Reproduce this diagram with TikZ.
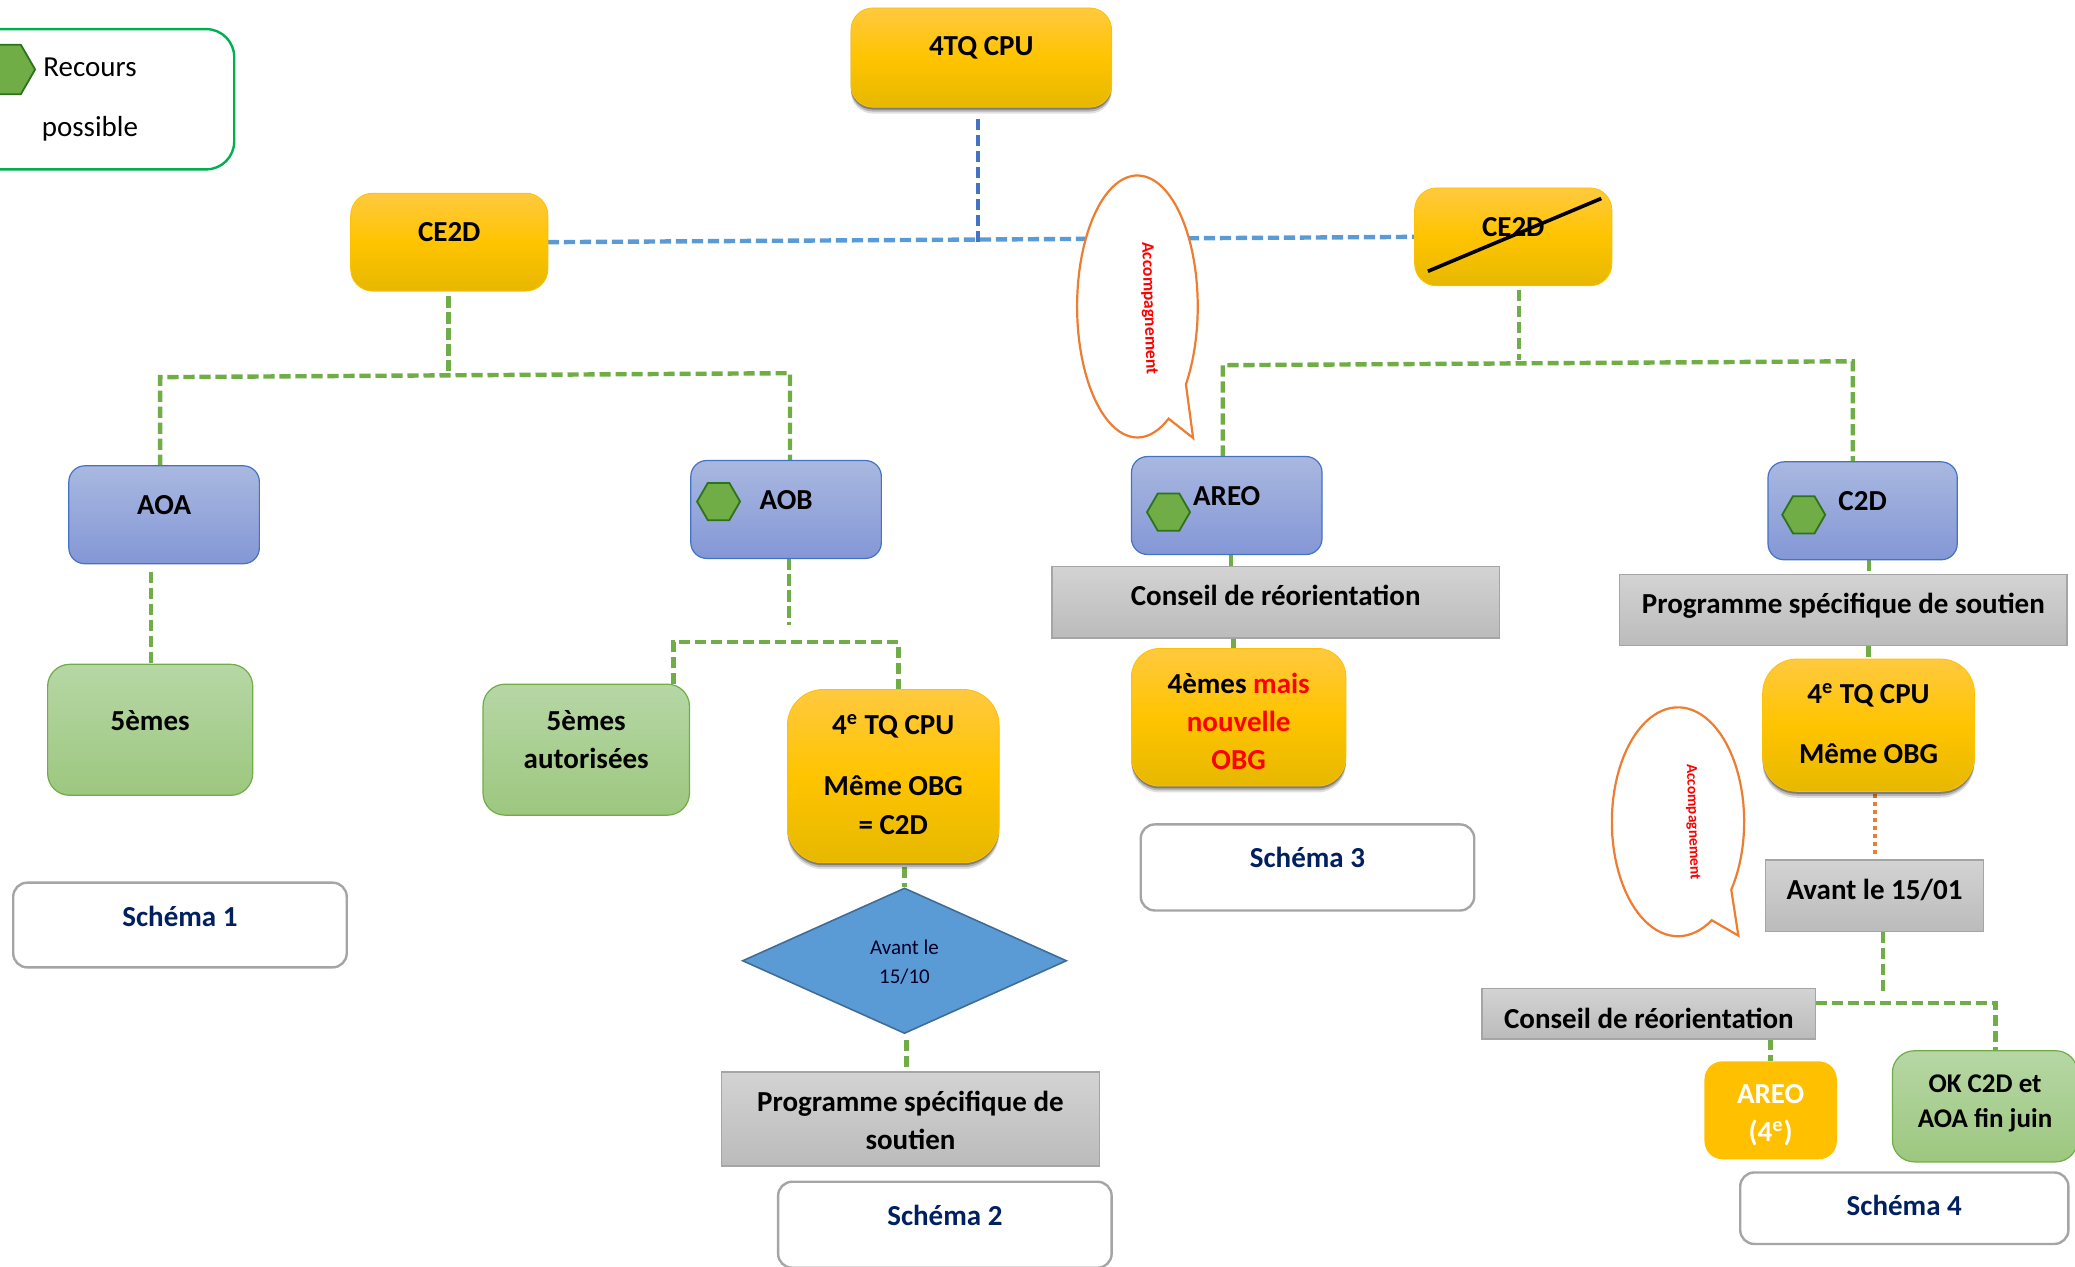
\documentclass[tikz,border=0pt]{standalone}
\usepackage{fontspec}
\setmainfont{Carlito}
\usetikzlibrary{shapes.geometric,shadows}
\pgfdeclarelayer{back}
\pgfsetlayers{back,main}
\definecolor{goldT}{HTML}{FFC93F}
\definecolor{goldM}{HTML}{FFC400}
\definecolor{goldB}{HTML}{E6B800}
\definecolor{goldL}{HTML}{FFC000}
\definecolor{blueT}{HTML}{A9B8E0}
\definecolor{blueB}{HTML}{8497D6}
\definecolor{blueL}{HTML}{4472C4}
\definecolor{greenT}{HTML}{B6D7A5}
\definecolor{greenB}{HTML}{9DC77F}
\definecolor{greenL}{HTML}{70AD47}
\definecolor{grayT}{HTML}{D3D3D3}
\definecolor{grayB}{HTML}{BBBBBB}
\definecolor{grayL}{HTML}{A5A5A5}
\definecolor{skyL}{HTML}{5B9BD5}
\definecolor{orangeL}{HTML}{ED7D31}
\definecolor{navy}{HTML}{002060}
\definecolor{legendL}{HTML}{00B050}
\newcommand\bx[8]{%
  \pgfmathsetmacro\rr{((#3+#5)/2-#8)*0.6616}%
  \node[#6,minimum width={(#4-#2)*0.6616pt},minimum height={(#5-#3)*0.6616pt}] (#1)
    at ({(#2+#4)/2},{(#3+#5)/2})
    {\smash{\raisebox{\dimexpr\rr pt-.365em\relax}{\begin{tabular}{@{}c@{}}#7\end{tabular}}}};}
\tikzset{
  anybox/.style={inner sep=0pt,outer sep=0pt,align=center},
  txt/.style={font=\fontsize{14.5}{17.5}\selectfont\bfseries},
  goldbox/.style={anybox,txt,rounded corners=11pt,draw=goldL,line width=.4pt,top color=goldT,bottom color=goldB,middle color=goldM},
  softshade/.style={drop shadow={shadow xshift=0pt,shadow yshift=-3.2pt,opacity=.12,fill=black},
    drop shadow={shadow xshift=0pt,shadow yshift=-2.2pt,opacity=.2,fill=black},
    drop shadow={shadow xshift=0pt,shadow yshift=-1.2pt,opacity=.3,fill=black}},
  goldshadow/.style={goldbox,softshade},
  bluebox/.style={anybox,txt,rounded corners=8pt,draw=blueL,line width=.6pt,top color=blueT,bottom color=blueB},
  greenbox/.style={anybox,txt,rounded corners=11pt,draw=greenL,line width=.6pt,top color=greenT,bottom color=greenB},
  graybox/.style={anybox,txt,draw=grayL,line width=.7pt,top color=grayT,bottom color=grayB},
  schemabox/.style={anybox,txt,text=navy,rounded corners=7pt,draw=grayL,line width=1.2pt,fill=white},
  flatgold/.style={anybox,txt,text=white,rounded corners=9pt,fill=goldL},
  hexa/.style={regular polygon,regular polygon sides=6,inner sep=0pt,minimum size=21.5pt,fill=greenL,draw=green!30!black!60!greenL,line width=.9pt},
  greenlink/.style={draw=greenL,line width=2.2pt,dash pattern=on 5.6pt off 2.4pt},
  skylink/.style={draw=skyL,line width=2.2pt,dash pattern=on 5.6pt off 2.4pt},
  bluelink/.style={draw=blueL,line width=2.2pt,dash pattern=on 5.6pt off 2.4pt},
  dotlink/.style={draw=orangeL,line width=2.2pt,dash pattern=on 2pt off 2pt},
  bubble/.style={draw=orangeL,line width=1.1pt,fill=white,line join=miter},
  acclabel/.style={inner sep=0pt,text=red,rotate=-88},
}
\begin{document}
\begin{tikzpicture}[x=0.6616pt,y=-0.6616pt]
\useasboundingbox (0,0) rectangle (1568,956.7);

% legend
\node[anybox,rounded corners=14pt,draw=legendL,line width=1.2pt,fill=white,minimum width={207*0.6616pt},minimum height={106*0.6616pt}] (legend) at (73.5,75) {};
\node[hexa,minimum size=28.5pt] (leghex) at (5,52.5) {};
\node[inner sep=0pt,font=\fontsize{14.5}{17.5}\selectfont,align=center] (legtxt) at (68,75) {Recours\\[12.6pt]possible};

% boxes
\bx{top}{643}{6}{840}{81}{goldshadow}{4TQ CPU}{34}
\bx{ceL}{265}{146}{414}{220}{goldbox}{CE2D}{175}
\bx{ceR}{1069}{142}{1218}{216}{goldbox}{CE2D}{171}
\bx{aoa}{52}{352}{196}{426}{bluebox}{AOA}{381}
\bx{aob}{522}{348}{666}{422}{bluebox}{AOB}{377}
\bx{areo}{855}{345}{999}{419}{bluebox}{AREO}{374}
\bx{ctd}{1336}{349}{1479}{423}{bluebox}{C2D}{378}
\bx{cinq}{36}{502}{191}{601}{greenbox}{5èmes}{544}
\bx{cinqa}{365}{517}{521}{616}{greenbox}{5èmes\\[1.6pt]autorisées}{558.5}
\bx{tqa}{595}{521}{755}{652}{goldshadow,rounded corners=18pt}{4\textsuperscript{e} TQ CPU\\[13pt]Même OBG\\[1.6pt]= C2D}{585}
\bx{tqb}{1332}{498}{1492}{598}{goldshadow,rounded corners=17pt}{4\textsuperscript{e} TQ CPU\\[12.5pt]Même OBG}{546.5}
\bx{quat}{855}{490}{1017}{594}{goldshadow,rounded corners=14pt}{4èmes \textcolor{red}{mais}\\[1.6pt]\textcolor{red}{nouvelle}\\[1.6pt]\textcolor{red}{OBG}}{545}
\bx{cons}{795}{428}{1133}{482}{graybox}{Conseil de réorientation}{450}
\bx{prga}{545}{810}{831}{881}{graybox}{Programme spécifique de\\[1.6pt]soutien}{846.5}
\bx{prgb}{1224}{434}{1562}{488}{graybox}{Programme spécifique de soutien}{456}
\bx{avant}{1334}{650}{1499}{704}{graybox}{Avant le 15/01}{672}
\bx{consb}{1120}{747}{1372}{785}{graybox}{Conseil de réorientation}{769}
\bx{areob}{1288}{802}{1388}{876}{flatgold}{AREO\\[1.6pt](4\textsuperscript{e})}{840.5}
\bx{okc}{1430}{794}{1570}{878}{greenbox,font=\fontsize{13.5}{16}\selectfont\bfseries}{OK C2D et\\[1.6pt]AOA fin juin}{832}
\bx{scha}{10}{667}{262}{731}{schemabox}{Schéma 1}{692}
\bx{schb}{588}{893}{840}{958}{schemabox}{Schéma 2}{918}
\bx{schc}{862}{623}{1114}{688}{schemabox}{Schéma 3}{648}
\bx{schd}{1315}{886}{1563}{940}{schemabox}{Schéma 4}{911}

% diamond
\node[diamond,aspect=2.23,inner sep=0pt,minimum width={245*0.6616pt},minimum height={110*0.6616pt},fill=skyL,draw=skyL!70!black,line width=.8pt,font=\fontsize{10.5}{14.5}\selectfont,text=black!85!blue] (diam) at (683.5,726) {\smash{\raisebox{-3.9pt}{\begin{tabular}{@{}c@{}}Avant le\\15/10\end{tabular}}}};

% hexagons
\node[hexa] (hexaob) at (543,379) {};
\node[hexa] (hexareo) at (883,387) {};
\node[hexa] (hexctd) at (1363,389) {};

% junctions
\coordinate (hub) at (739,183);
\coordinate (lj) at (339,280);
\coordinate (la) at (121,285);
\coordinate (lb) at (597,282);
\coordinate (mj) at (596,472);
\coordinate (ma) at (509,485);
\coordinate (mb) at (679,485);
\coordinate (rj) at (1148,272);
\coordinate (ra) at (924,276);
\coordinate (rb) at (1400,273);
\coordinate (ej) at (1423,752);
\coordinate (eb) at (1508,758);
\coordinate (dj) at (685,781);
\coordinate (sa) at (1079,205);
\coordinate (sb) at (1210,150);

\begin{pgfonlayer}{back}
\draw[skylink] (ceL.east) -- (ceR.west);
\draw[bluelink,shorten <=6pt] (top.south -| hub) -- (hub);
\draw[greenlink,shorten <=2.6pt] (ceL.south -| lj) -- (lj);
\draw[greenlink,line join=miter] (aoa.north -| la) -- (la) -- (lb) -- (aob.north -| lb);
\draw[greenlink,shorten <=4pt] ([xshift=-6.6pt]aoa.south) -- ([xshift=-6.6pt]aoa.south |- cinq.north);
\draw[greenlink] (aob.south -| mj) -- (mj);
\draw[greenlink,line join=miter] (cinqa.north -| ma) -- (ma) -- (mb) -- (tqa.north -| mb);
\draw[greenlink,shorten <=2pt] (tqa.south -| diam.north) -- (diam.north);
\draw[greenlink,shorten <=3pt] (dj) -- (prga.north -| dj);
\draw[greenlink,shorten <=2pt] (ceR.south -| rj) -- (rj);
\draw[greenlink,line join=miter] (areo.north -| ra) -- (ra) -- (rb) -- (ctd.north -| rb);
\draw[greenlink] ([xshift=2pt]areo.south) -- ([xshift=2pt]areo.south |- cons.north);
\draw[greenlink] ([xshift=-2.6pt]quat.north |- cons.south) -- ([xshift=-2.6pt]quat.north);
\draw[greenlink] ([xshift=3.3pt]ctd.south) -- ([xshift=3.3pt]ctd.south |- prgb.north);
\draw[greenlink] (prgb.south -| tqb.north) -- (tqb.north);
\draw[dotlink,shorten <=1.5pt,shorten >=2.6pt] ([xshift=3.3pt]tqb.south) -- ([xshift=3.3pt]tqb.south |- avant.north);
\draw[greenlink] (avant.south -| ej) -- (ej);
\draw[greenlink,line join=miter] (consb.east |- eb) -- (eb) -- (eb |- okc.north);
\draw[greenlink] (consb.south -| areob.north) -- (areob.north);
\end{pgfonlayer}

% strike
\draw[line width=1.8pt] (sa) -- (sb);

% bubbles
\draw[bubble] plot[domain=-36.5:301.1,samples=90] ({859.5+45.6*cos(\x)},{231.6-99*sin(\x)}) -- (901.6,331) -- cycle;
\draw[bubble] plot[domain=-36.4:300.7,samples=90] ({1268+50*cos(\x)},{621-86.5*sin(\x)}) -- (1313.6,707) -- cycle;

\node[acclabel,font=\fontsize{8.8}{10}\selectfont\bfseries] (acca) at (868,233) {Accompagnement};
\node[acclabel,font=\fontsize{7.7}{9}\selectfont\bfseries] (accb) at (1279,621) {Accompagnement};
\end{tikzpicture}
\end{document}
